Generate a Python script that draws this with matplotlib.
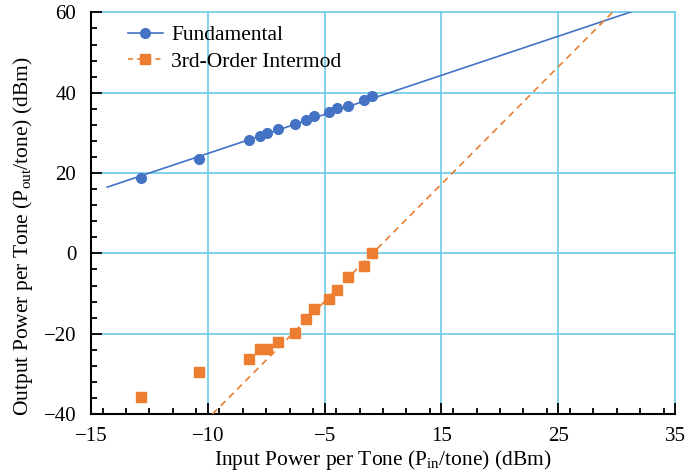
import matplotlib
matplotlib.use("Agg")
import matplotlib.pyplot as plt
from matplotlib.ticker import MultipleLocator

plt.rcParams['font.family'] = ['Liberation Serif', 'DejaVu Serif']
plt.rcParams['mathtext.fontset'] = 'custom'
plt.rcParams['mathtext.rm'] = 'Liberation Serif'
plt.rcParams['mathtext.it'] = 'Liberation Serif:italic'

# measured points (dBm)
pin = [-10.7, -5.75, -1.5, -0.5, 0.1, 1.05, 2.45, 3.4, 4.05, 5.4, 6.05, 7.0, 8.35, 9.05]
fund = [18.7, 23.5, 28.2, 29.3, 29.9, 30.9, 32.2, 33.2, 34.2, 35.2, 36.1, 36.75, 38.1, 39.1]
im3 = [-35.8, -29.6, -26.2, -23.9, -23.9, -22.1, -19.7, -16.2, -13.9, -11.4, -9.1, -5.9, -3.2, 0.15]

# fitted trend lines
fund_fit_x = [-13.6, 31.3]
fund_fit_y = [16.5, 60.2]
im3_fit_x = [-4.6, 29.8]
im3_fit_y = [-40.0, 60.5]

xticks = [-15, -5, 5, 15, 25, 35]
xtick_labels = ['\u221215', '\u221210', '\u22125', '15', '25', '35']
yticks = [-40, -20, 0, 20, 40, 60]
ytick_labels = ['\u221240', '\u221220', '0', '20', '40', '60']

blue = '#4472C4'
orange = '#ED7D31'
gridc = '#6CCBE6'

fig = plt.figure(figsize=(6.99, 4.76), dpi=100)
ax = fig.add_axes([0.130, 0.130, 0.836, 0.844])

ax.plot(fund_fit_x, fund_fit_y, '-', color=blue, lw=1.2, zorder=3)
ax.plot(im3_fit_x, im3_fit_y, '--', color=orange, lw=1.2, dashes=(4, 3), zorder=3)
ax.plot(pin, fund, 'o', color=blue, ms=7, zorder=4)
ax.plot(pin, im3, 's', color=orange, ms=7, zorder=4)

# legend handles combine the line style with the marker
ax.plot([], [], '-o', color=blue, lw=1.2, ms=7, label='Fundamental')
ax.plot([], [], '--s', color=orange, lw=1.2, ms=7, dashes=(3, 2.5), label='3rd-Order Intermod')
ax.legend(loc='upper left', frameon=False, fontsize=15.5, handlelength=1.6,
          handletextpad=0.4, borderaxespad=0, labelspacing=0.32,
          bbox_to_anchor=(0.049, 0.99))

ax.set_xlim(-15, 35)
ax.set_ylim(-40, 60)
ax.set_xticks(xticks)
ax.set_xticklabels(xtick_labels)
ax.set_yticks(yticks)
ax.set_yticklabels(ytick_labels)
ax.xaxis.set_minor_locator(MultipleLocator(2))
ax.yaxis.set_minor_locator(MultipleLocator(4))

ax.grid(True, which='major', color=gridc, lw=1.2, zorder=0)
for g in ax.get_xgridlines() + ax.get_ygridlines():
    g.set_clip_on(False)
ax.set_axisbelow(True)

ax.spines['top'].set_visible(False)
ax.spines['right'].set_visible(False)
ax.spines['left'].set_linewidth(1.5)
ax.spines['bottom'].set_linewidth(1.5)
ax.tick_params(which='major', direction='in', length=8, width=1.3, labelsize=15)
ax.tick_params(which='minor', direction='in', length=4.5, width=1.3)
ax.tick_params(axis='x', which='both', top=False, pad=9)
ax.tick_params(axis='y', which='both', right=False, pad=10.5)

ax.set_xlabel('Input Power per Tone (P$_{\\mathrm{in}}$/tone) (dBm)', fontsize=15.5)
ax.set_ylabel('Output Power per Tone (P$_{\\mathrm{out}}$/tone) (dBm)', fontsize=15.5)
ax.xaxis.set_label_coords(0.5, -0.085)
ax.yaxis.set_label_coords(-0.096, 0.443)

fig.savefig('out.png', dpi=100)
